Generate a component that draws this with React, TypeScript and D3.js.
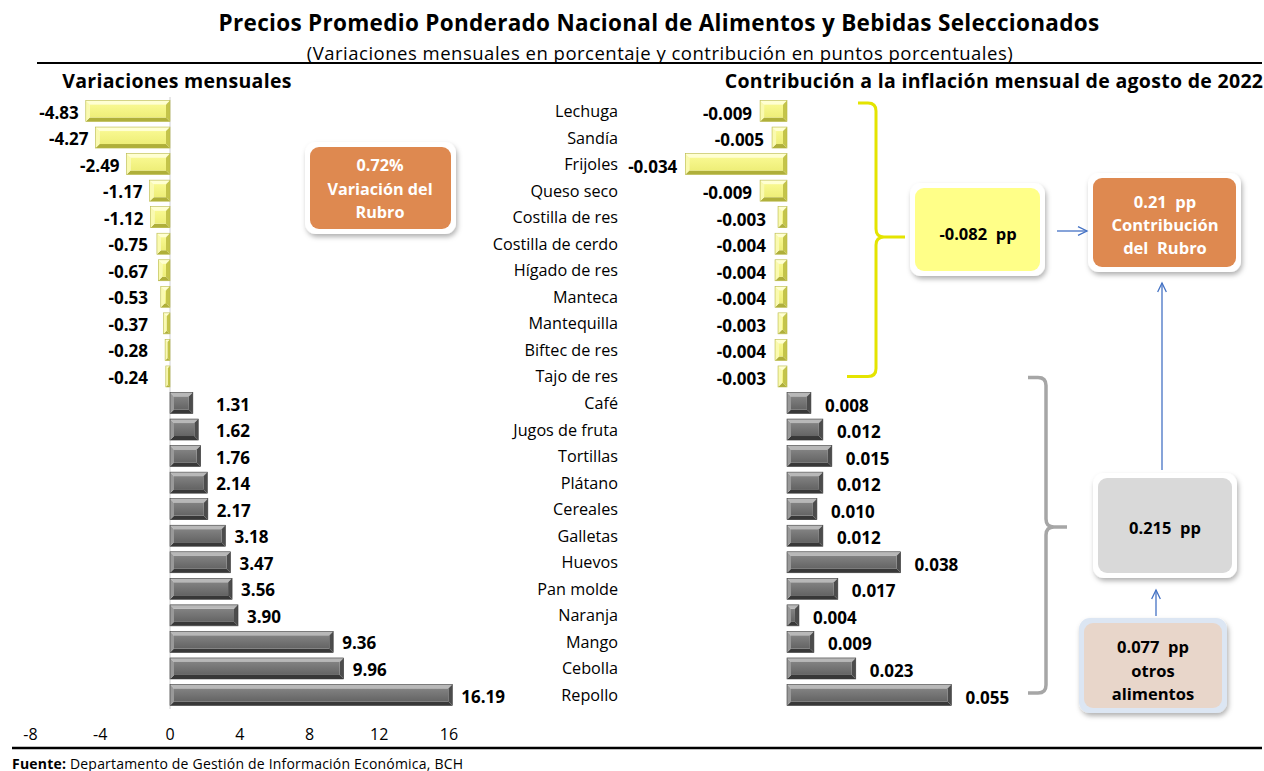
import React from "react";
import * as d3 from "d3";

const categories = ["Lechuga","Sandía","Frijoles","Queso seco","Costilla de res","Costilla de cerdo","Hígado de res","Manteca","Mantequilla","Biftec de res","Tajo de res","Café","Jugos de fruta","Tortillas","Plátano","Cereales","Galletas","Huevos","Pan molde","Naranja","Mango","Cebolla","Repollo"];
const variaciones = [-4.83,-4.27,-2.49,-1.17,-1.12,-0.75,-0.67,-0.53,-0.37,-0.28,-0.24,1.31,1.62,1.76,2.14,2.17,3.18,3.47,3.56,3.90,9.36,9.96,16.19];
const contribuciones = [-0.009,-0.005,-0.034,-0.009,-0.003,-0.004,-0.004,-0.004,-0.003,-0.004,-0.003,0.008,0.012,0.015,0.012,0.010,0.012,0.038,0.017,0.004,0.009,0.023,0.055];
const leftTicks = [-8,-4,0,4,8,12,16];

const title = "Precios Promedio Ponderado Nacional de Alimentos y Bebidas Seleccionados";
const subtitle = "(Variaciones mensuales en porcentaje y contribución en puntos porcentuales)";
const leftHeader = "Variaciones mensuales";
const rightHeader = "Contribución a la inflación mensual de agosto de 2022";
const boxRubroVar = ["0.72%", "Variación del", "Rubro"];
const boxNeg = ["-0.082  pp"];
const boxRubroContrib = ["0.21  pp", "Contribución", "del  Rubro"];
const boxPos = ["0.215  pp"];
const boxOtros = ["0.077  pp", "otros", "alimentos"];

const FONT = "'Open Sans', 'Noto Sans', sans-serif";

const W = 1264, H = 771;
const yS = d3.scalePoint<string>().domain(categories).range([111, 695]);
const xL = d3.scaleLinear().domain([-8, 16]).range([30.5, 449]);
const R0 = 787, RK = 2990;
const xR = d3.scaleLinear().domain([-0.04, 0.06]).range([R0 - 0.04 * RK, R0 + 0.06 * RK]);

const YEL = { top: "#FFFFD2", left: "#FAFAB0", mid1: "#F8F890", mid2: "#EEEE78", right: "#C4C44A", bottom: "#AFAF3A", stroke: "#B8B845" };
const GRY = { top: "#B8B8B8", left: "#999999", mid1: "#828282", mid2: "#646464", right: "#4C4C4C", bottom: "#383838", stroke: "#3A3A3A" };

function BevelBar({ x, y, w, h, pal, id }: any) {
  const b = Math.min(4, w / 2, h / 2);
  const x2 = x + w, y2 = y + h;
  return (
    <g>
      <polygon points={`${x},${y} ${x2},${y} ${x2 - b},${y + b} ${x + b},${y + b}`} fill={pal.top} />
      <polygon points={`${x},${y2} ${x2},${y2} ${x2 - b},${y2 - b} ${x + b},${y2 - b}`} fill={pal.bottom} />
      <polygon points={`${x},${y} ${x + b},${y + b} ${x + b},${y2 - b} ${x},${y2}`} fill={pal.left} />
      <polygon points={`${x2},${y} ${x2 - b},${y + b} ${x2 - b},${y2 - b} ${x2},${y2}`} fill={pal.right} />
      <rect x={x + b} y={y + b} width={Math.max(0, w - 2 * b)} height={Math.max(0, h - 2 * b)} fill={`url(#${id})`} />
      <rect x={x} y={y} width={w} height={h} fill="none" stroke={pal.stroke} strokeWidth={0.6} />
    </g>
  );
}

function Box({ x, y, w, h, fill, border, lines, color, cx, ys, size }: any) {
  return (
    <g>
      <rect x={x} y={y} width={w} height={h} rx={11} fill={border} filter="url(#shadow)" />
      <rect x={x + 5} y={y + 5} width={w - 10} height={h - 10} rx={9} fill={fill} />
      {lines.map((t: string, i: number) => (
        <text key={i} x={cx} y={ys[i]} textAnchor="middle" dominantBaseline="central" fill={color}
          fontFamily={FONT} fontWeight={700} fontSize={size} style={{ whiteSpace: "pre" }}>{t}</text>
      ))}
    </g>
  );
}

function Arrow({ x1, y1, x2, y2 }: any) {
  const ang = Math.atan2(y2 - y1, x2 - x1);
  const L = 10, a = 0.45;
  const p1 = [x2 - L * Math.cos(ang - a), y2 - L * Math.sin(ang - a)];
  const p2 = [x2 - L * Math.cos(ang + a), y2 - L * Math.sin(ang + a)];
  return (
    <g stroke="#4472C4" strokeWidth={1.3} fill="none">
      <line x1={x1} y1={y1} x2={x2} y2={y2} />
      <polyline points={`${p1[0]},${p1[1]} ${x2},${y2} ${p2[0]},${p2[1]}`} />
    </g>
  );
}

export default function App() {
  const bh = 21;
  const yTop = yS(categories[0])!;
  const yNegEnd = yS(categories[10])!;
  const yBottom = yS(categories[categories.length - 1])!;
  return (
    <svg width={W} height={H} style={{ position: "absolute", left: 0, top: 0, background: "#fff" }}>
      <defs>
        <linearGradient id="gY" x1="0" y1="0" x2="0" y2="1">
          <stop offset="0" stopColor={YEL.mid1} />
          <stop offset="1" stopColor={YEL.mid2} />
        </linearGradient>
        <linearGradient id="gG" x1="0" y1="0" x2="0" y2="1">
          <stop offset="0" stopColor={GRY.mid1} />
          <stop offset="1" stopColor={GRY.mid2} />
        </linearGradient>
        <filter id="shadow" x="-20%" y="-20%" width="140%" height="150%">
          <feDropShadow dx="1.5" dy="3" stdDeviation="2.5" floodColor="#000" floodOpacity="0.3" />
        </filter>
      </defs>

      {/* Title */}
      <text x={659} y={22} textAnchor="middle" dominantBaseline="central" fontFamily={FONT} fontWeight={700} fontSize={22.5} letterSpacing={0.3}>{title}</text>
      <text x={660} y={52} textAnchor="middle" dominantBaseline="central" fontFamily={FONT} fontSize={18.5} letterSpacing={0.5}>{subtitle}</text>
      <line x1={37} x2={1262} y1={63} y2={63} stroke="#000" strokeWidth={2} />
      <text x={177} y={80} textAnchor="middle" dominantBaseline="central" fontFamily={FONT} fontWeight={700} fontSize={19.5} letterSpacing={0.3}>{leftHeader}</text>
      <text x={994} y={80} textAnchor="middle" dominantBaseline="central" fontFamily={FONT} fontWeight={700} fontSize={19.5} letterSpacing={0.3}>{rightHeader}</text>

      {/* Left axis line */}
      <line x1={xL(0)} x2={xL(0)} y1={yTop - 14} y2={yBottom + 14} stroke="#D0D0D0" strokeWidth={1} />

      {/* Left bars */}
      {categories.map((c, i) => {
        const v = variaciones[i];
        const yc = yS(c)!;
        const x0 = xL(Math.min(0, v)), x1 = xL(Math.max(0, v));
        const neg = v < 0;
        return (
          <g key={"l" + c}>
            <BevelBar x={x0} y={yc - bh / 2} w={x1 - x0} h={bh} pal={neg ? YEL : GRY} id={neg ? "gY" : "gG"} />
            <text x={neg ? Math.min(x0 - 7, 148) : Math.max(x1 + 9, 216)} y={yc + 1} textAnchor={neg ? "end" : "start"}
              dominantBaseline="central" fontFamily={FONT} fontWeight={700} fontSize={17}>{v.toFixed(2)}</text>
          </g>
        );
      })}

      {/* Left axis ticks */}
      {leftTicks.map((t) => (
        <text key={"t" + t} x={xL(t)} y={734} textAnchor="middle" dominantBaseline="central" fontFamily={FONT} fontSize={16}>{t}</text>
      ))}

      {/* Category labels */}
      {categories.map((c) => (
        <text key={"c" + c} x={618} y={yS(c)!} textAnchor="end" dominantBaseline="central" fontFamily={FONT} fontSize={16.2}>{c}</text>
      ))}

      {/* Right bars */}
      {categories.map((c, i) => {
        const v = contribuciones[i];
        const yc = yS(c)!;
        const x0 = xR(Math.min(0, v)), x1 = xR(Math.max(0, v));
        const neg = v < 0;
        return (
          <g key={"r" + c}>
            <BevelBar x={x0} y={yc - bh / 2} w={x1 - x0} h={bh} pal={neg ? YEL : GRY} id={neg ? "gY" : "gG"} />
            <text x={neg ? Math.min(x0 - 8, 766) : x1 + 14} y={yc + 2} textAnchor={neg ? "end" : "start"}
              dominantBaseline="central" fontFamily={FONT} fontWeight={700} fontSize={17}>{v.toFixed(3)}</text>
          </g>
        );
      })}

      {/* Yellow brace */}
      <path d={`M 858 ${yTop - 8} H 868 Q 876 ${yTop - 8} 876 ${yTop} V 229 Q 876 237 884 237 H 905 M 884 237 Q 876 237 876 245 V ${yNegEnd - 8} Q 876 ${yNegEnd} 868 ${yNegEnd} H 847`}
        fill="none" stroke="#E4E400" strokeWidth={3} />
      {/* Grey brace */}
      <path d={`M 1028 ${yNegEnd + 1} H 1038 Q 1046 ${yNegEnd + 1} 1046 ${yNegEnd + 9} V 519 Q 1046 527 1054 527 H 1067 M 1054 527 Q 1046 527 1046 535 V ${yBottom - 10} Q 1046 ${yBottom - 2} 1038 ${yBottom - 2} H 1028`}
        fill="none" stroke="#A6A6A6" strokeWidth={3.5} />

      {/* Boxes */}
      <Box x={305} y={142} w={151} h={92} fill="#DE8950" border="#fff" lines={boxRubroVar} color="#fff" cx={380} ys={[165, 189, 212]} size={16.2} />
      <Box x={910} y={183} w={135} h={93} fill="#FFFF88" border="#fff" lines={boxNeg} color="#000" cx={978} ys={[233]} size={16.5} />
      <Box x={1088} y={173} w={153} h={99} fill="#DE8950" border="#fff" lines={boxRubroContrib} color="#fff" cx={1165} ys={[201, 224, 247]} size={16.5} />
      <Box x={1093} y={473} w={144} h={105} fill="#D9D9D9" border="#fff" lines={boxPos} color="#000" cx={1165} ys={[527]} size={16.5} />
      <Box x={1079} y={618} w={148} h={95} fill="#E8D6CA" border="#DCE6F3" lines={boxOtros} color="#000" cx={1153} ys={[646, 670, 693]} size={16.5} />

      {/* Arrows */}
      <Arrow x1={1057} y1={231} x2={1087} y2={231} />
      <Arrow x1={1162} y1={470} x2={1162} y2={283} />
      <Arrow x1={1156} y1={616} x2={1156} y2={590} />

      {/* Bottom line and source */}
      <line x1={12} x2={1262} y1={748} y2={748} stroke="#000" strokeWidth={2.5} />
      <text x={12} y={763} dominantBaseline="central" fontFamily={FONT} fontSize={14} letterSpacing={0.2}>
        <tspan fontWeight={700}>Fuente:</tspan> Departamento de Gestión de Información Económica, BCH
      </text>
    </svg>
  );
}
